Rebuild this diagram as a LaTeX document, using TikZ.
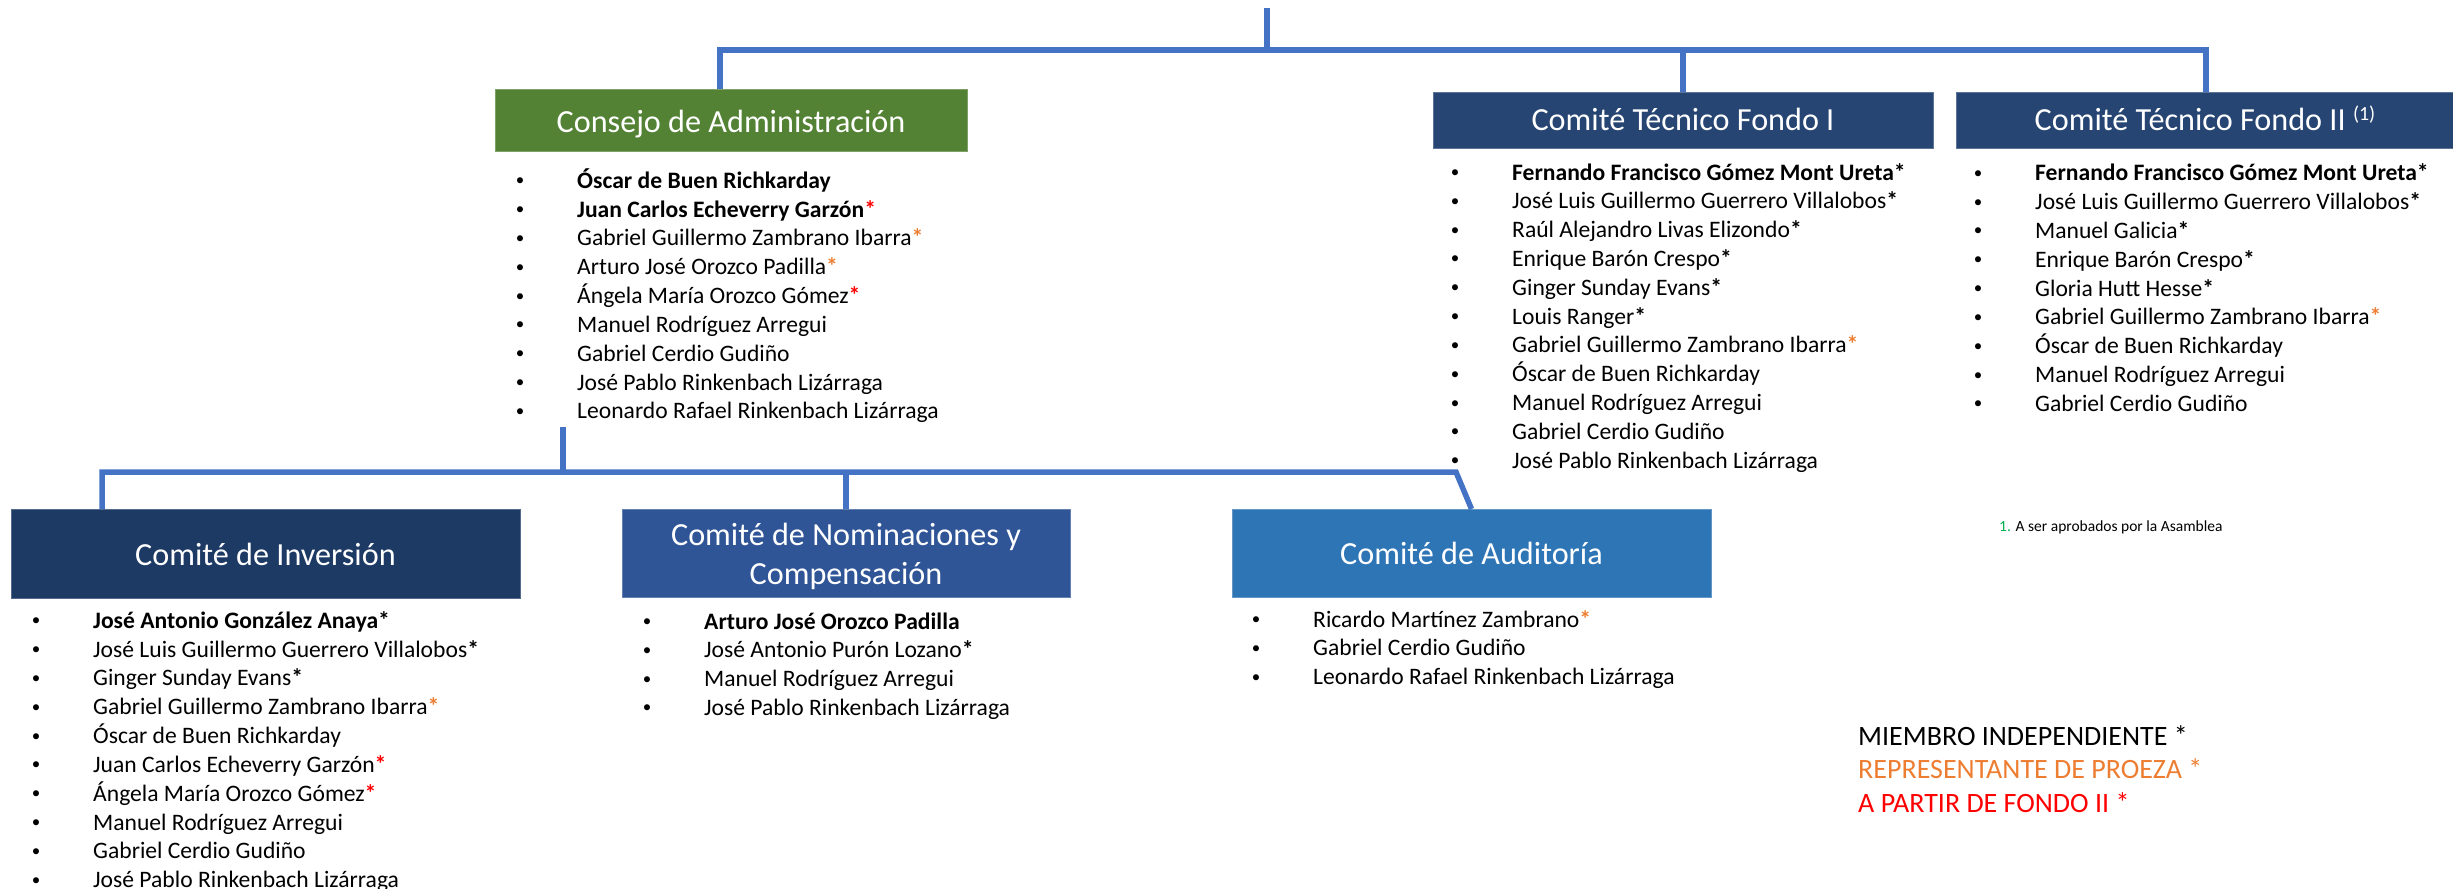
\documentclass[tikz,border=0pt]{standalone}
\usepackage{fontspec}
\setmainfont{Carlito}
\usetikzlibrary{calc}
\definecolor{connc}{HTML}{4472C4}
\definecolor{cgreen}{HTML}{548235}
\definecolor{cfondo}{HTML}{264573}
\definecolor{cinv}{HTML}{1C3A64}
\definecolor{cnom}{HTML}{2F5597}
\definecolor{caud}{HTML}{2E75B6}
\definecolor{corange}{HTML}{ED7D31}
\definecolor{cred}{HTML}{FF0000}
\definecolor{cfoot}{HTML}{00B050}
\newcommand\bs{\textbf{*}}
\newcommand\os{\textcolor{corange}{\textbf{*}}}
\newcommand\rs{\textcolor{cred}{\textbf{*}}}
\newcommand\mlist[4]{%
  \foreach \mitem [count=\i] in {#4} {
    \node[bulnode, anchor=base] (#1b\i) at ({#2},{#3-2.5+(\i-1)*28.83}) {•};
    \node[itmnode, anchor=base west] (#1t\i) at ({#2+57},{#3+(\i-1)*28.83}) {\mitem};
  }}
\begin{document}
\begin{tikzpicture}[x=1pt,y=-1pt,
  connector/.style={draw=connc, line width=5.5pt, line join=miter},
  box/.style={inner sep=0pt, outer sep=0pt, draw=#1!75!white, line width=1pt, fill=#1, anchor=north west},
  ttl/.style={text=white, inner sep=0pt, anchor=base, font=\fontsize{32.2}{38.5}\selectfont},
  bulnode/.style={inner sep=0pt, font=\fontsize{17}{20}\selectfont},
  itmnode/.style={inner sep=0pt, font=\fontsize{23.6}{28.83}\selectfont},
  legend/.style={inner sep=0pt, anchor=base west, font=\fontsize{28}{33}\selectfont},
]
\useasboundingbox (0,0) rectangle (2453,889);

% boxes
\node[box=cgreen, minimum width=472pt, minimum height=62pt] (cons) at (495,89) {};
\node[box=cfondo, minimum width=500pt, minimum height=56pt] (f1) at (1433,92) {};
\node[box=cfondo, minimum width=497pt, minimum height=56pt] (f2) at (1956,92) {};
\node[box=cinv, minimum width=509pt, minimum height=89pt] (inv) at (11,509) {};
\node[box=cnom, minimum width=448pt, minimum height=88pt] (nom) at (622,509) {};
\node[box=caud, minimum width=479pt, minimum height=88pt] (aud) at (1232,509) {};

% titles
\node[ttl] (consT) at (731,132) {Consejo de Administración};
\node[ttl] (f1T) at (1683,130.7) {Comité Técnico Fondo I};
\node[ttl] (f2T) at (2205,130.7) {Comité Técnico Fondo II \raisebox{10pt}{\fontsize{20}{20}\selectfont(1)}};
\node[ttl] (invT) at (265.5,565.7) {Comité de Inversión};
\node[ttl] (nomT1) at (846,545) {Comité de Nominaciones y};
\node[ttl] (nomT2) at (846,584) {Compensación};
\node[ttl] (audT) at (1471.5,564) {Comité de Auditoría};

% member lists
\mlist{cl}{520}{188.3}{\textbf{Óscar de Buen Richkarday}, \textbf{Juan Carlos Echeverry Garzón}\rs, Gabriel Guillermo Zambrano Ibarra\os, Arturo José Orozco Padilla\os, Ángela María Orozco Gómez\rs, Manuel Rodríguez Arregui, Gabriel Cerdio Gudiño, José Pablo Rinkenbach Lizárraga, Leonardo Rafael Rinkenbach Lizárraga}
\mlist{fa}{1455}{180}{\textbf{Fernando Francisco Gómez Mont Ureta*}, José Luis Guillermo Guerrero Villalobos\bs, Raúl Alejandro Livas Elizondo\bs, Enrique Barón Crespo\bs, Ginger Sunday Evans\bs, Louis Ranger\bs, Gabriel Guillermo Zambrano Ibarra\os, Óscar de Buen Richkarday, Manuel Rodríguez Arregui, Gabriel Cerdio Gudiño, José Pablo Rinkenbach Lizárraga}
\mlist{fb}{1978}{180.7}{\textbf{Fernando Francisco Gómez Mont Ureta*}, José Luis Guillermo Guerrero Villalobos\bs, Manuel Galicia\bs, Enrique Barón Crespo\bs, Gloria Hutt Hesse\bs, Gabriel Guillermo Zambrano Ibarra\os, Óscar de Buen Richkarday, Manuel Rodríguez Arregui, Gabriel Cerdio Gudiño}
\mlist{il}{36}{628.3}{\textbf{José Antonio González Anaya*}, José Luis Guillermo Guerrero Villalobos\bs, Ginger Sunday Evans\bs, Gabriel Guillermo Zambrano Ibarra\os, Óscar de Buen Richkarday, Juan Carlos Echeverry Garzón\rs, Ángela María Orozco Gómez\rs, Manuel Rodríguez Arregui, Gabriel Cerdio Gudiño, José Pablo Rinkenbach Lizárraga}
\mlist{nl}{647}{629}{\textbf{Arturo José Orozco Padilla}, José Antonio Purón Lozano\bs, Manuel Rodríguez Arregui, José Pablo Rinkenbach Lizárraga}
\mlist{al}{1256}{627}{Ricardo Martínez Zambrano\os, Gabriel Cerdio Gudiño, Leonardo Rafael Rinkenbach Lizárraga}

% footnote and legend
\node[inner sep=0pt, anchor=base west, font=\fontsize{15.5}{18}\selectfont] (foot) at (1999,531.7) {\textcolor{cfoot}{1.} A ser aprobados por la Asamblea};
\node[legend] (lg1) at (1858,745) {MIEMBRO INDEPENDIENTE *};
\node[legend, text=corange] (lg2) at (1858,778.5) {REPRESENTANTE DE PROEZA *};
\node[legend, text=cred] (lg3) at (1858,812) {A PARTIR DE FONDO II *};

% connectors
\coordinate (root) at (1267,8);
\coordinate (barL) at (720,50);
\coordinate (barR) at (2206,50);
\draw[connector] (root) -- (root |- barL);
\draw[connector] (barL |- cons.north) -- (barL) -- (barR) -- (barR |- f2.north);
\draw[connector] (f1.north |- barL) -- (f1.north);
\coordinate (consBot) at (563,427);
\coordinate (lowL) at (102,472);
\coordinate (lowR) at (1456,472);
\draw[connector] (consBot) -- (consBot |- lowL);
\draw[connector] (lowL |- inv.north) -- (lowL) -- (lowR) -- (aud.north);
\draw[connector] (nom.north |- lowL) -- (nom.north);
\end{tikzpicture}
\end{document}
